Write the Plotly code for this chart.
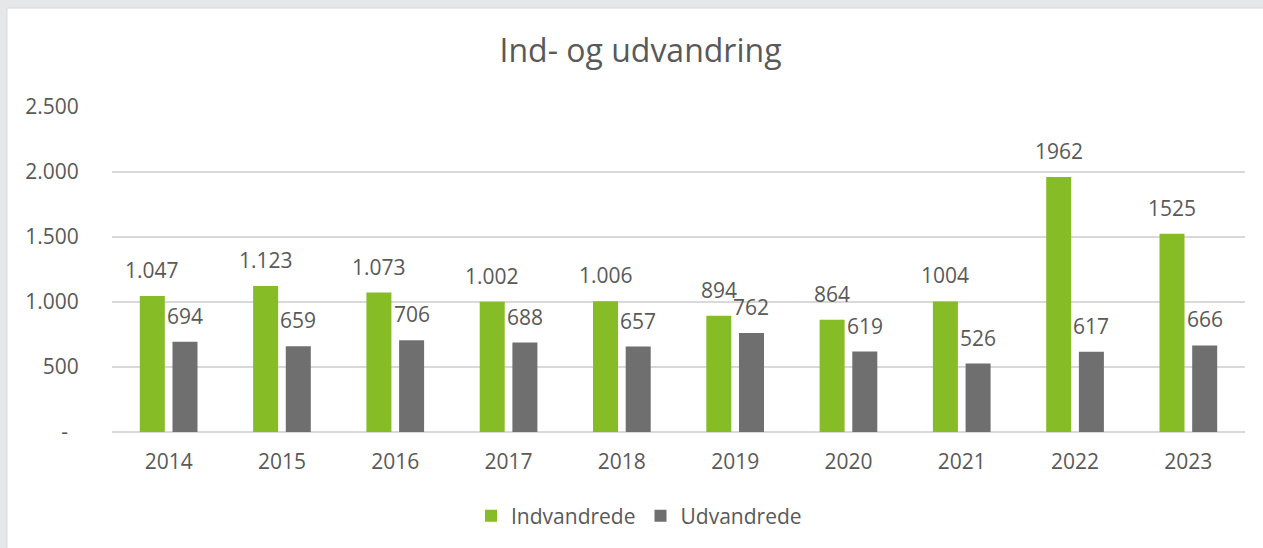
import plotly.graph_objects as go

years = ["2014", "2015", "2016", "2017", "2018", "2019", "2020", "2021", "2022", "2023"]
indvandrede = [1047, 1123, 1073, 1002, 1006, 894, 864, 1004, 1962, 1525]
udvandrede = [694, 659, 706, 688, 657, 762, 619, 526, 617, 666]
ind_labels = ["1.047", "1.123", "1.073", "1.002", "1.006", "894", "864", "1004", "1962", "1525"]
ud_labels = ["694", "659", "706", "688", "657", "762", "619", "526", "617", "666"]
y_ticks = [0, 500, 1000, 1500, 2000, 2500]
y_ticktext = ["-\u00a0\u00a0", "500", "1.000", "1.500", "2.000", "2.500"]

GREEN = "#86BC25"
GRAY = "#6F6F6F"
TEXT = "#595959"
FONT = "Open Sans"

W, H = 1263, 548
ML, MR, MT, MB = 112, 18, 107, 116
plot_w = W - ML - MR
plot_h = H - MT - MB
BARGAP = 0.423
slot_px = plot_w / len(years) * (1 - BARGAP) / 2

fig = go.Figure()
fig.add_trace(go.Bar(name="Indvandrede", x=years, y=indvandrede, marker_color=GREEN,
                     marker_line_width=0, hoverinfo="x+y"))
fig.add_trace(go.Bar(name="Udvandrede", x=years, y=udvandrede, marker_color=GRAY,
                     marker_line_width=0, hoverinfo="x+y"))

annotations = []
for i, (v, t) in enumerate(zip(indvandrede, ind_labels)):
    annotations.append(dict(x=i, y=v, text=t, showarrow=False, xref="x", yref="y",
                            xshift=-slot_px / 2, yshift=26, yanchor="middle",
                            font=dict(family=FONT, size=21, color=TEXT)))
for i, (v, t) in enumerate(zip(udvandrede, ud_labels)):
    annotations.append(dict(x=i, y=v, text=t, showarrow=False, xref="x", yref="y",
                            xshift=slot_px / 2, yshift=26, yanchor="middle",
                            font=dict(family=FONT, size=21, color=TEXT)))

# white chart frame on grey page
fx0 = (7 - ML) / plot_w
fx1 = (W + 2 - ML) / plot_w
fy1 = (H - MB - 8) / plot_h
fy0 = (H - MB - H - 2) / plot_h

fig.update_layout(
    width=W, height=H,
    margin=dict(l=ML, r=MR, t=MT, b=MB, pad=0),
    paper_bgcolor="#E6E7E9",
    plot_bgcolor="rgba(0,0,0,0)",
    barmode="group",
    bargap=BARGAP,
    bargroupgap=0.235,
    title=dict(text="Ind- og udvandring", x=640.5 / W, xanchor="center",
               y=1 - 51 / H, yanchor="middle",
               font=dict(family=FONT, size=32, color=TEXT)),
    font=dict(family=FONT, size=21, color=TEXT),
    showlegend=True,
    legend=dict(orientation="h", x=(639 - ML) / plot_w, xanchor="center",
                y=(H - MB - 516) / plot_h, yanchor="middle",
                font=dict(family=FONT, size=21, color=TEXT),
                bgcolor="rgba(0,0,0,0)"),
    annotations=annotations,
    shapes=[dict(type="rect", xref="paper", yref="paper", x0=fx0, x1=fx1, y0=fy0, y1=fy1,
                 fillcolor="white", line=dict(color="#D9D9D9", width=1), layer="below")],
)
fig.update_xaxes(type="category", range=[-0.5, len(years) - 0.5],
                 showgrid=False, showline=False, zeroline=False,
                 ticks="outside", ticklen=11, tickcolor="rgba(0,0,0,0)",
                 tickfont=dict(family=FONT, size=21, color=TEXT))
fig.update_yaxes(range=[0, 2500], tickvals=y_ticks, ticktext=y_ticktext,
                 showgrid=True, gridcolor="#D9D9D9", gridwidth=2,
                 zeroline=True, zerolinecolor="#D9D9D9", zerolinewidth=2,
                 showline=False, ticks="outside", ticklen=28, tickcolor="rgba(0,0,0,0)",
                 tickfont=dict(family=FONT, size=21, color=TEXT))

fig.write_html("out.html", config={"displayModeBar": False},
               post_script="document.body.style.margin='0';document.body.style.overflow='hidden';")
